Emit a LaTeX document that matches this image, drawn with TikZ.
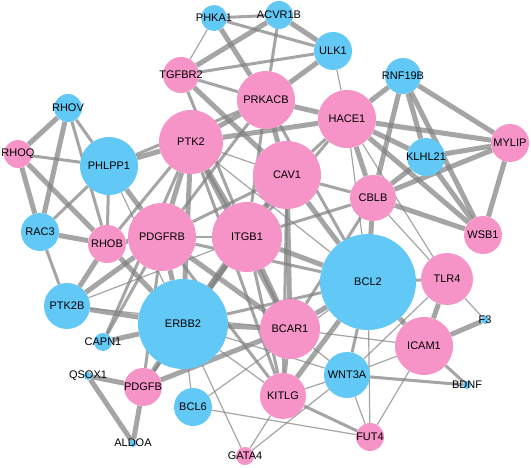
\documentclass[tikz,border=0pt]{standalone}
\usepackage{fontspec}
\setmainfont{Liberation Sans}
\definecolor{nblue}{RGB}{98,200,246}
\definecolor{npink}{RGB}{246,148,200}
\definecolor{egray}{RGB}{128,128,128}
\pgfdeclarelayer{bg}
\pgfdeclarelayer{paper}
\pgfsetlayers{paper,bg,main}
\tikzset{
  nd/.style={circle, draw=none, inner sep=0pt, minimum size=#1},
  bl/.style={nd=#1, fill=nblue},
  pk/.style={nd=#1, fill=npink},
  lab/.style={font=\fontsize{11}{12}\selectfont, text=black, inner sep=0pt},
  et/.style={draw=egray, line width=5pt, opacity=0.7},
  em/.style={draw=egray, line width=3pt, opacity=0.7},
  en/.style={draw=egray, line width=1.2pt, opacity=0.7}
}
\begin{document}
\begin{tikzpicture}[x=1pt,y=-1pt]
\begin{pgfonlayer}{paper}
\fill[white] (0,0) rectangle (531,468);
\end{pgfonlayer}
\useasboundingbox (0,0) rectangle (531,468);
% nodes
\node[bl=26, label={[lab]center:PHKA1}] (PHKA1) at (214,18) {};
\node[bl=28, label={[lab]center:ACVR1B}] (ACVR1B) at (279,15) {};
\node[bl=38, label={[lab]center:ULK1}] (ULK1) at (333,51) {};
\node[pk=36, label={[lab]center:TGFBR2}] (TGFBR2) at (181,75) {};
\node[pk=58, label={[lab]center:PRKACB}] (PRKACB) at (266,100) {};
\node[bl=36, label={[lab]center:RNF19B}] (RNF19B) at (403,76) {};
\node[pk=58, label={[lab]center:HACE1}] (HACE1) at (347,119) {};
\node[pk=38, label={[lab]center:MYLIP}] (MYLIP) at (510,143) {};
\node[bl=28, label={[lab]center:RHOV}] (RHOV) at (68,108) {};
\node[pk=28, label={[lab]center:RHOQ}] (RHOQ) at (18,154) {};
\node[bl=58, label={[lab]center:PHLPP1}] (PHLPP1) at (109,166) {};
\node[pk=64, label={[lab]center:PTK2}] (PTK2) at (191,142) {};
\node[pk=68, label={[lab]center:CAV1}] (CAV1) at (287,175) {};
\node[bl=38, label={[lab]center:KLHL21}] (KLHL21) at (426,157) {};
\node[pk=46, label={[lab]center:CBLB}] (CBLB) at (373,198) {};
\node[pk=38, label={[lab]center:WSB1}] (WSB1) at (483,235) {};
\node[bl=38, label={[lab]center:RAC3}] (RAC3) at (40,232) {};
\node[pk=38, label={[lab]center:RHOB}] (RHOB) at (107,244) {};
\node[pk=68, label={[lab]center:PDGFRB}] (PDGFRB) at (162,237) {};
\node[pk=70, label={[lab]center:ITGB1}] (ITGB1) at (247,237) {};
\node[bl=96, label={[lab]center:BCL2}] (BCL2) at (368,282) {};
\node[pk=52, label={[lab]center:TLR4}] (TLR4) at (447,279) {};
\node[bl=46, label={[lab]center:PTK2B}] (PTK2B) at (67,306) {};
\node[bl=90, label={[lab]center:ERBB2}] (ERBB2) at (183,324) {};
\node[pk=60, label={[lab]center:BCAR1}] (BCAR1) at (290,329) {};
\node[bl=18, label={[lab]center:CAPN1}] (CAPN1) at (103,342) {};
\node[bl=8, label={[lab]center:F3}] (F3) at (485,320) {};
\node[pk=58, label={[lab]center:ICAM1}] (ICAM1) at (424,346) {};
\node[bl=8, label={[lab]center:QSOX1}] (QSOX1) at (88,376) {};
\node[pk=38, label={[lab]center:PDGFB}] (PDGFB) at (143,387) {};
\node[bl=46, label={[lab]center:WNT3A}] (WNT3A) at (347,375) {};
\node[bl=8, label={[lab]center:BDNF}] (BDNF) at (467,385) {};
\node[pk=46, label={[lab]center:KITLG}] (KITLG) at (283,396) {};
\node[bl=38, label={[lab]center:BCL6}] (BCL6) at (193,407) {};
\node[bl=8, label={[lab]center:ALDOA}] (ALDOA) at (133,443) {};
\node[pk=28, label={[lab]center:FUT4}] (FUT4) at (370,437) {};
\node[pk=18, label={[lab]center:GATA4}] (GATA4) at (245,456) {};
% edges
\begin{pgfonlayer}{bg}
\foreach \a/\b in {PHKA1/PRKACB, ACVR1B/TGFBR2, ACVR1B/ULK1, ULK1/PRKACB, TGFBR2/CAV1,
  RHOV/RHOQ, RHOV/RAC3, RHOQ/RAC3, RHOQ/RHOB, RAC3/RHOB, PHLPP1/PTK2, PHLPP1/PDGFRB,
  RHOB/PDGFRB, RHOB/ERBB2, RHOB/PTK2B, PTK2B/PDGFRB, PTK2B/ERBB2, CAPN1/ERBB2,
  PDGFB/QSOX1, PDGFB/ALDOA, QSOX1/ALDOA, PDGFB/ERBB2, PDGFB/BCAR1,
  PTK2/PRKACB, PTK2/HACE1, PTK2/PDGFRB, PTK2/ITGB1, PTK2/ERBB2, PTK2/BCAR1,
  PRKACB/CAV1, PRKACB/HACE1, CAV1/ITGB1, CAV1/ERBB2, CAV1/BCAR1, CAV1/BCL2,
  ITGB1/ERBB2, ITGB1/BCAR1, ITGB1/BCL2, PDGFRB/ERBB2, PDGFRB/BCAR1, ERBB2/BCAR1,
  BCAR1/BCL2, BCL2/KITLG, BCL2/ICAM1, BCL2/CBLB, ICAM1/TLR4, ICAM1/F3,
  RNF19B/HACE1, RNF19B/CBLB, RNF19B/KLHL21, RNF19B/MYLIP, RNF19B/WSB1,
  HACE1/MYLIP, HACE1/KLHL21, HACE1/CBLB, HACE1/WSB1, KLHL21/MYLIP, KLHL21/CBLB,
  KLHL21/WSB1, CBLB/MYLIP, CBLB/WSB1, MYLIP/WSB1}
  \draw[et] (\a) -- (\b);
\foreach \a/\b in {PHKA1/ACVR1B, PHKA1/ULK1, ACVR1B/PRKACB, TGFBR2/ULK1, TGFBR2/PRKACB,
  TGFBR2/ITGB1, RHOV/PHLPP1, RHOV/RHOB, RHOQ/PHLPP1, PHLPP1/RAC3, PHLPP1/RHOB, RAC3/PTK2B,
  PHLPP1/PRKACB, RHOB/PTK2, CAPN1/PDGFRB, CAPN1/PTK2, PDGFB/PDGFRB, PDGFB/ITGB1,
  PTK2/KITLG, PRKACB/PDGFRB, PRKACB/ITGB1, PRKACB/BCL2, HACE1/CAV1, CAV1/PDGFRB,
  CAV1/KITLG, CAV1/CBLB, ITGB1/KITLG, PDGFRB/BCL2, PDGFRB/KITLG, ERBB2/BCL2,
  BCAR1/KITLG, BCL2/WNT3A, BCL2/TLR4, KITLG/FUT4, WNT3A/BDNF, ICAM1/BDNF,
  CBLB/ITGB1, CBLB/BCAR1, HACE1/ITGB1}
  \draw[em] (\a) -- (\b);
\foreach \a/\b in {PHKA1/TGFBR2, ULK1/HACE1, PHLPP1/ERBB2, PTK2B/BCAR1, PTK2B/ITGB1,
  PTK2/CAV1, PTK2/BCL2, ITGB1/PDGFRB, ERBB2/KITLG, ERBB2/BCL6, ERBB2/GATA4, ERBB2/WNT3A,
  BCAR1/WNT3A, BCAR1/ICAM1, BCL2/HACE1, BCL2/FUT4, BCL6/FUT4, BCL6/BCL2, GATA4/KITLG,
  GATA4/WNT3A, KITLG/WNT3A, WNT3A/ICAM1, WNT3A/FUT4, WNT3A/TLR4, FUT4/ICAM1,
  TLR4/F3, HACE1/TLR4, CBLB/TLR4}
  \draw[en] (\a) -- (\b);
\end{pgfonlayer}
\end{tikzpicture}
\end{document}
